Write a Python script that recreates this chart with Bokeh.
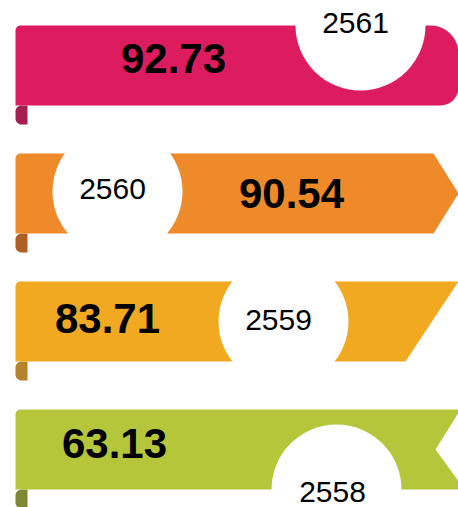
import math
from bokeh.plotting import figure
from bokeh.models import ColumnDataSource, Range1d
from bokeh.core.properties import value
from bokeh.embed import file_html
from bokeh.resources import INLINE

# ---- data ----
years = ["2561", "2560", "2559", "2558"]
values = [92.73, 90.54, 83.71, 63.13]
colors = ["#dd1c5f", "#ee8a2a", "#f2a922", "#b5c63a"]
tab_colors = ["#a51f52", "#ae5f26", "#b5842a", "#7c8836"]
shapes = ["round", "arrow", "slant", "notch"]

# ---- layout (screen-pixel style positions) ----
LEFT, RIGHT = 15, 458
TOP0, STEP, H = 25, 128, 80
circle_off = [(360, 0), (117, 38), (283, 40), (336, 80)]
year_off = [(355, -3), (112, 35), (278, 38), (332, 82)]
value_off = [(173, 33), (291, 40), (107, 37), (114, 34)]
R_CIRC = 65


def arc(cx, cy, r, a0, a1, n=10):
    pts = []
    for k in range(n + 1):
        a = math.radians(a0 + (a1 - a0) * k / n)
        pts.append((cx + r * math.cos(a), cy + r * math.sin(a)))
    return pts


def ribbon(kind, t):
    b = t + H
    pts = arc(LEFT + 5, t + 5, 5, 180, 270)
    if kind == "round":
        pts += arc(RIGHT - 28, t + 28, 28, 270, 360)
        pts += arc(RIGHT - 18, b - 18, 18, 0, 90)
    elif kind == "arrow":
        pts += [(433, t), (RIGHT, t + H / 2), (433, b)]
    elif kind == "slant":
        pts += [(RIGHT, t), (405, b)]
    else:
        pts += [(RIGHT + 2, t), (435, t + 40), (RIGHT + 6, b)]
    pts += [(LEFT, b)]
    return [p[0] for p in pts], [p[1] for p in pts]


def tab(t):
    b = t + H
    pts = [(27, b)]
    pts += arc(21, b + 6, 6, 270, 180)
    pts += arc(21, b + 13, 6, 180, 90)
    pts += [(27, b + 19)]
    return [p[0] for p in pts], [p[1] for p in pts]


tops = [TOP0 + STEP * i for i in range(len(values))]
rx, ry, tx, ty = [], [], [], []
for kind, t in zip(shapes, tops):
    xs, ys = ribbon(kind, t)
    rx.append(xs)
    ry.append(ys)
    xs, ys = tab(t)
    tx.append(xs)
    ty.append(ys)

src = ColumnDataSource(dict(
    rx=rx, ry=ry, tx=tx, ty=ty, color=colors, tab_color=tab_colors,
    cx=[c[0] for c in circle_off], cy=[t + c[1] for t, c in zip(tops, circle_off)],
    yx=[c[0] for c in year_off], yy=[t + c[1] for t, c in zip(tops, year_off)],
    vx=[c[0] for c in value_off], vy=[t + c[1] for t, c in zip(tops, value_off)],
    year=years, val=["%.2f" % v for v in values],
))

p = figure(width=458, height=507, x_range=Range1d(0, 458), y_range=Range1d(507, 0),
           output_backend="svg", toolbar_location=None, min_border=0)
p.axis.visible = False
p.grid.visible = False
p.outline_line_color = None
p.background_fill_color = "white"
p.border_fill_color = "white"

p.patches("tx", "ty", source=src, fill_color="tab_color", line_color=None)
p.patches("rx", "ry", source=src, fill_color="color", line_color=None)
p.circle("cx", "cy", radius=R_CIRC, source=src, fill_color="white", line_color=None)
p.text("vx", "vy", text="val", source=src, text_font=value("Liberation Sans"),
       text_font_style="bold", text_font_size="42px", text_align="center",
       text_baseline="middle", text_color="black")
p.text("yx", "yy", text="year", source=src, text_font=value("Liberation Sans"),
       text_font_size="30px", text_align="center", text_baseline="middle",
       text_color="black")

open("out.html", "w").write(file_html(p, INLINE))
